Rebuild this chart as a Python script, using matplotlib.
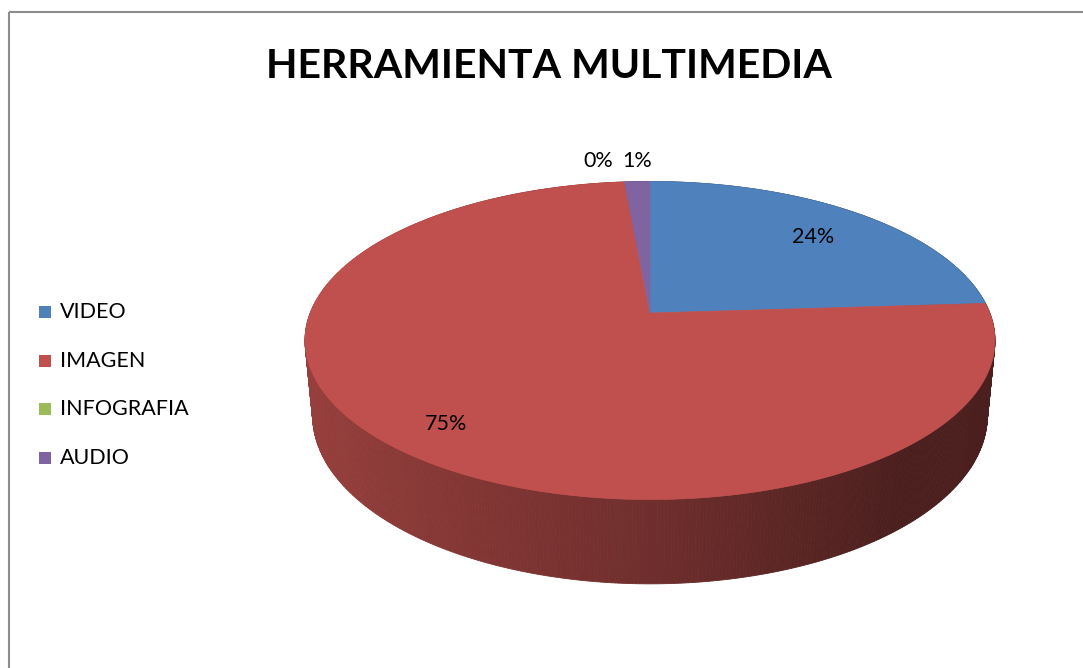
import numpy as np
import matplotlib.pyplot as plt
from matplotlib.patches import Polygon, Rectangle

categories = ["VIDEO", "IMAGEN", "INFOGRAFIA", "AUDIO"]
values = [24.0, 74.6, 0.0, 1.4]
colors = ["#4F81BD", "#C0504D", "#9BBB59", "#8064A2"]
title = "HERRAMIENTA MULTIMEDIA"

# 3d pie view (pixel space of the figure)
CX, CY = 650, 313
F, DIST = 1750, 5.15
ELEV = np.radians(27)
DEPTH = 0.25
FONT = "Lato"


def project(u, v, z=0.0):
    yc = v * np.sin(ELEV) + z * np.cos(ELEV)
    zc = DIST + v * np.cos(ELEV) - z * np.sin(ELEV)
    return CX + F * u / zc, CY - F * yc / zc


def shade(color, u):
    rgb = np.array(plt.matplotlib.colors.to_rgb(color))
    if u < 0:
        k = 0.58 - 0.22 * u
    else:
        k = max(0.39, 0.58 - 0.3 * u)
    return tuple(rgb * k)


fig = plt.figure(figsize=(10.83, 6.68), dpi=100)
ax = fig.add_axes([0, 0, 1, 1])
ax.set_xlim(0, 1083)
ax.set_ylim(668, 0)
ax.axis("off")

ax.add_patch(Rectangle((9, 12), 1200, 800, fill=False, edgecolor="#8c8c8c", lw=1.5))

vals = np.array(values)
total = vals.sum()
cum = np.concatenate([[0], np.cumsum(vals)]) / total
starts = 90 - cum[:-1] * 360
ends = 90 - cum[1:] * 360


def owner(t):
    frac = ((90 - t) % 360) / 360
    return min(np.searchsorted(cum, frac, side="right") - 1, len(vals) - 1)


# side wall, far pieces first
n = 720
ts = np.linspace(0, 360, n + 1)
quads = []
for t0, t1 in zip(ts[:-1], ts[1:]):
    tm = np.radians((t0 + t1) / 2)
    a0, a1 = np.radians(t0), np.radians(t1)
    pts = [project(np.cos(a0), np.sin(a0)), project(np.cos(a1), np.sin(a1)),
           project(np.cos(a1), np.sin(a1), -DEPTH), project(np.cos(a0), np.sin(a0), -DEPTH)]
    col = shade(colors[owner(np.degrees(tm))], np.cos(tm))
    quads.append((np.sin(tm), pts, col))
quads.sort(key=lambda q: -q[0])
for _, pts, col in quads:
    ax.add_patch(Polygon(pts, closed=True, facecolor=col, edgecolor=col, lw=0.6))

# top face
for i, v in enumerate(values):
    if v <= 0:
        continue
    arc = np.radians(np.linspace(starts[i], ends[i], max(3, int(v * 4))))
    pts = [project(0, 0)] + [project(np.cos(a), np.sin(a)) for a in arc]
    ax.add_patch(Polygon(pts, closed=True, facecolor=colors[i], edgecolor=colors[i], lw=0.5))

# percent labels
pcts = np.round(vals / total * 100).astype(int)
small = []
for i in range(len(values)):
    mid = np.radians((starts[i] + ends[i]) / 2)
    if pcts[i] >= 5:
        x, y = project(0.8 * np.cos(mid), 0.8 * np.sin(mid))
        ax.text(x - 6, y + 6, f"{pcts[i]}%", ha="center", va="center", fontsize=15.5, family=FONT)
    else:
        x, y = project(np.cos(mid), np.sin(mid))
        small.append([x, y - 15, f"{pcts[i]}%"])
small.sort(key=lambda s: -s[0])
for j in range(1, len(small)):
    small[j][0] = min(small[j][0], small[j - 1][0] - 39)
for x, y, s in small:
    ax.text(x, y, s, ha="center", va="baseline", fontsize=15.5, family=FONT)

# legend
for i, name in enumerate(categories):
    y = 312 + i * 48.7
    ax.add_patch(Rectangle((39, y - 6), 12, 12, facecolor=colors[i], edgecolor="none"))
    ax.text(60, y, name, ha="left", va="center", fontsize=15.5, family=FONT)

ax.text(549, 78, title, ha="center", va="baseline", fontsize=29.5, fontweight="bold", family=FONT)

fig.savefig("out.png", dpi=100)
